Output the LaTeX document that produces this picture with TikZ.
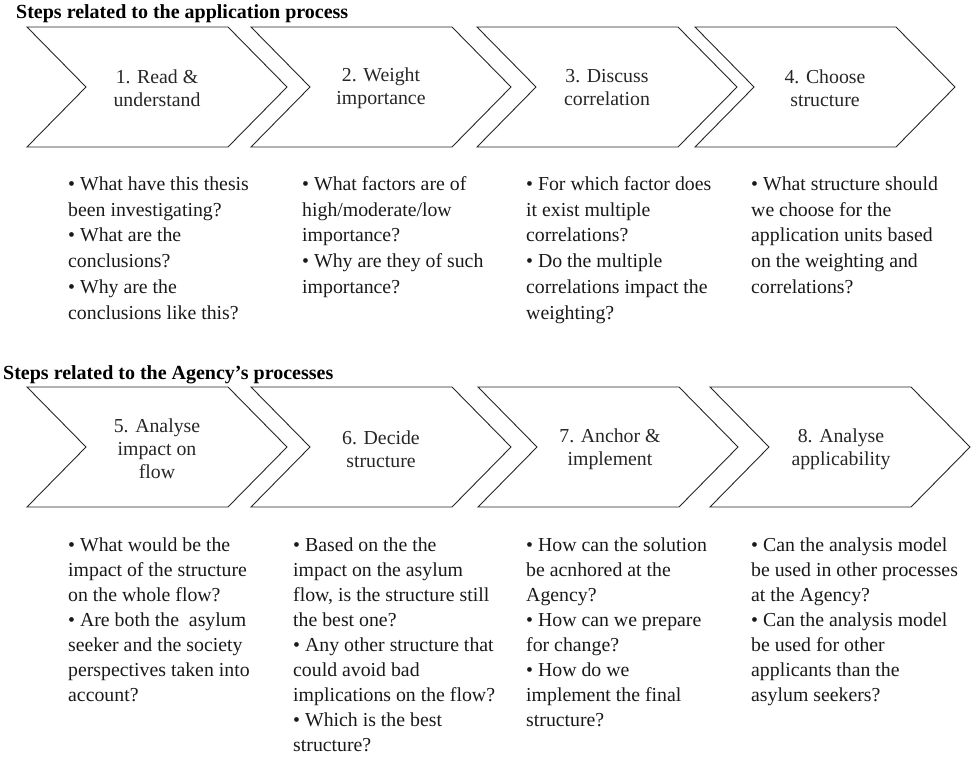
\documentclass[tikz,border=0pt]{standalone}
\usepackage{fontspec}
\setmainfont{Liberation Serif}
\usepackage{tikz}
\usetikzlibrary{positioning}

\newcommand{\stepfont}{\fontsize{19.8}{23}\selectfont}
\newcommand{\qfont}{\fontsize{19.8}{25.8}\selectfont}
\newcommand{\qfonttight}{\fontsize{19.8}{25}\selectfont}
\newcommand{\headfont}{\fontsize{20}{24}\selectfont\bfseries}

\begin{document}
\begin{tikzpicture}[
  x=1pt,y=-1pt,
  chevron/.style={draw=black!85,line width=0.9pt,line join=miter},
  steplabel/.style={align=center,inner sep=0pt,font=\stepfont,text=black!85},
  question/.style={align=left,anchor=north west,inner sep=0pt,font=\qfont,text=black!90},
  heading/.style={anchor=base west,inner sep=0pt,font=\headfont},
]
  \useasboundingbox (0,0) rectangle (972,757);

  % Headings
  \node[heading] (head1) at (16,19) {Steps related to the application process};
  \node[heading] (head2) at (3,379) {Steps related to the Agency’s processes};

  % Steps: application process
  \draw[chevron] (27,27) -- ++(201,0) -- ++(59,60) -- ++(-59,60) -- ++(-201,0) -- ++(59,-60) -- cycle;
  \draw[chevron] (251,27) -- ++(201,0) -- ++(59,60) -- ++(-59,60) -- ++(-201,0) -- ++(59,-60) -- cycle;
  \draw[chevron] (477,27) -- ++(201,0) -- ++(59,60) -- ++(-59,60) -- ++(-201,0) -- ++(59,-60) -- cycle;
  \draw[chevron] (695,27) -- ++(201,0) -- ++(59,60) -- ++(-59,60) -- ++(-201,0) -- ++(59,-60) -- cycle;
  \node[steplabel] (s1) at (157,88) {1. Read \&\\understand};
  \node[steplabel] (s2) at (381,88) {2. Weight\\importance};
  \node[steplabel] (s3) at (607,88) {3. Discuss\\correlation};
  \node[steplabel] (s4) at (825,88) {4. Choose\\structure};

  % Questions: application process
  \node[question] (q1) at (68,172) {\strut• What have this thesis\\been investigating?\\• What are the\\conclusions?\\• Why are the\\conclusions like this?};
  \node[question] (q2) at (302,172) {\strut• What factors are of\\high/moderate/low\\importance?\\• Why are they of such\\importance?};
  \node[question] (q3) at (526,172) {\strut• For which factor does\\it exist multiple\\correlations?\\• Do the multiple\\correlations impact the\\weighting?};
  \node[question] (q4) at (751,172) {\strut• What structure should\\we choose for the\\application units based\\on the weighting and\\correlations?};

  % Steps: Agency's processes
  \draw[chevron] (27,387) -- ++(201,0) -- ++(59,60) -- ++(-59,60) -- ++(-201,0) -- ++(59,-60) -- cycle;
  \draw[chevron] (251,387) -- ++(201,0) -- ++(59,60) -- ++(-59,60) -- ++(-201,0) -- ++(59,-60) -- cycle;
  \draw[chevron] (478,387) -- ++(201,0) -- ++(59,60) -- ++(-59,60) -- ++(-201,0) -- ++(59,-60) -- cycle;
  \draw[chevron] (710,387) -- ++(201,0) -- ++(59,60) -- ++(-59,60) -- ++(-201,0) -- ++(59,-60) -- cycle;
  \node[steplabel] (s5) at (157,449) {5. Analyse\\impact on\\flow};
  \node[steplabel] (s6) at (381,449) {6. Decide\\structure};
  \node[steplabel] (s7) at (610,449) {7. Anchor \&\\implement};
  \node[steplabel] (s8) at (841,449) {8. Analyse\\applicability};

  % Questions: Agency's processes
  \node[question,font=\qfonttight] (q5) at (68,533.5) {\strut• What would be the\\impact of the structure\\on the whole flow?\\• Are both the \ asylum\\seeker and the society\\perspectives taken into\\account?};
  \node[question,font=\qfonttight] (q6) at (293,533.5) {\strut• Based on the the\\impact on the asylum\\flow, is the structure still\\the best one?\\• Any other structure that\\could avoid bad\\implications on the flow?\\• Which is the best\\structure?};
  \node[question,font=\qfonttight] (q7) at (526,533.5) {\strut• How can the solution\\be acnhored at the\\Agency?\\• How can we prepare\\for change?\\• How do we\\implement the final\\structure?};
  \node[question,font=\qfonttight] (q8) at (751,533.5) {\strut• Can the analysis model\\be used in other processes\\at the Agency?\\• Can the analysis model\\be used for other\\applicants than the\\asylum seekers?};
\end{tikzpicture}
\end{document}
